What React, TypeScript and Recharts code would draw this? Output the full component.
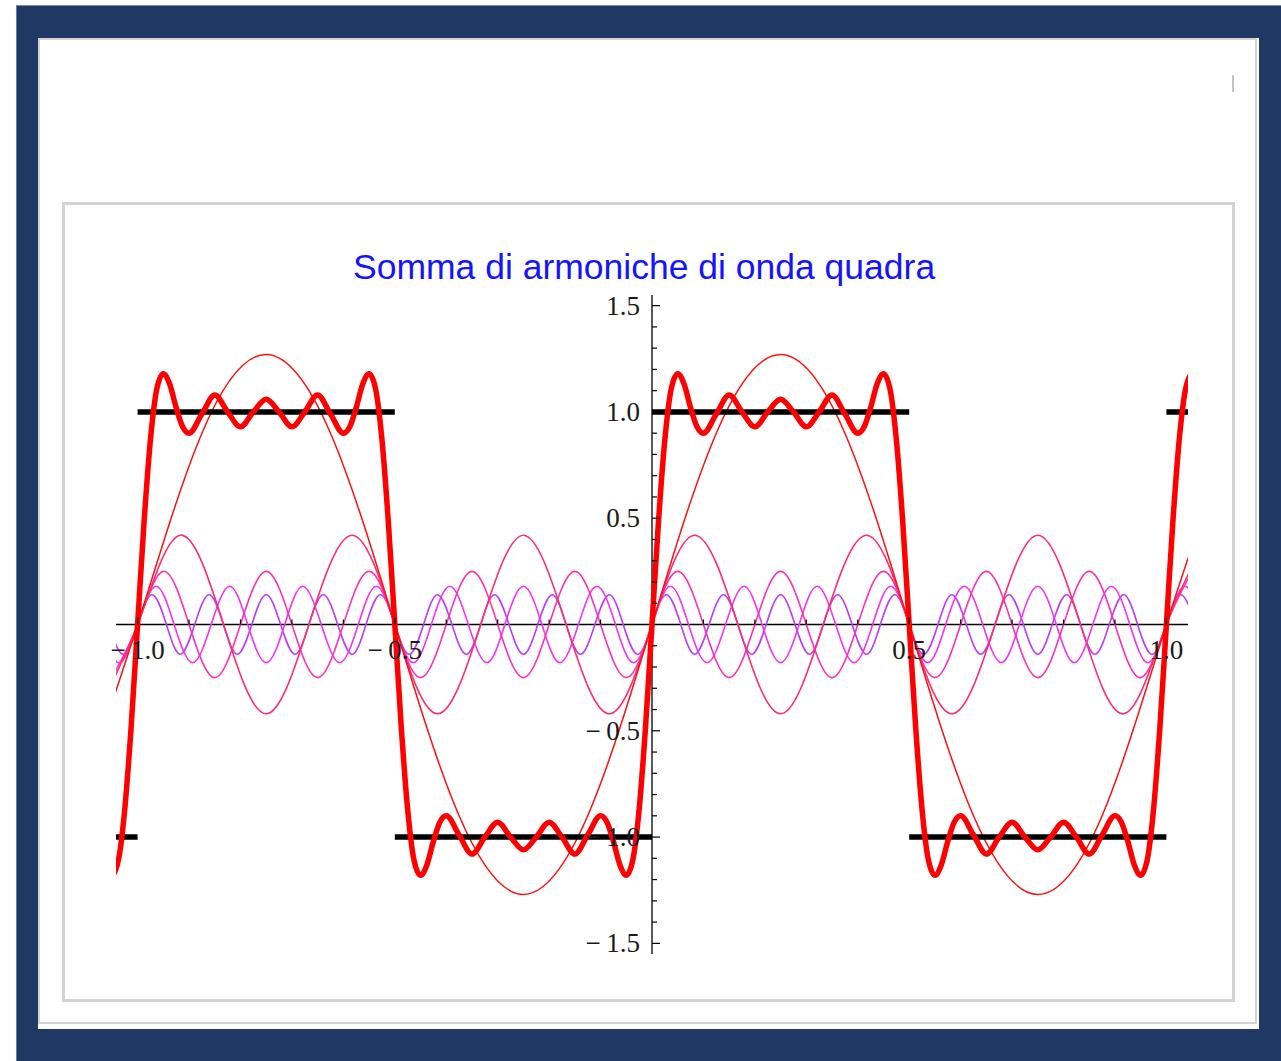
import { Line, LineChart, ReferenceDot, ReferenceLine, XAxis, YAxis } from 'recharts';

type Pair = [number, number | null];
type Point = { x: number; y: number | null };

// Fundamental, sampled every eighth of its period
const harmonic1: Pair[] = [
  [-1.125, -0.9], [-1, 0], [-0.875, 0.9], [-0.75, 1.27], [-0.625, 0.9], [-0.5, 0],
  [-0.375, -0.9], [-0.25, -1.27], [-0.125, -0.9], [0, 0], [0.125, 0.9], [0.25, 1.27],
  [0.375, 0.9], [0.5, 0], [0.625, -0.9], [0.75, -1.27], [0.875, -0.9], [1, 0], [1.125, 0.9],
];

// Odd harmonics, sampled at zeros and crests
const harmonic3: Pair[] = [
  [-1.083, -0.42], [-1, 0], [-0.917, 0.42], [-0.833, 0], [-0.75, -0.42], [-0.667, 0],
  [-0.583, 0.42], [-0.5, 0], [-0.417, -0.42], [-0.333, 0], [-0.25, 0.42], [-0.167, 0],
  [-0.083, -0.42], [0, 0], [0.083, 0.42], [0.167, 0], [0.25, -0.42], [0.333, 0],
  [0.417, 0.42], [0.5, 0], [0.583, -0.42], [0.667, 0], [0.75, 0.42], [0.833, 0],
  [0.917, -0.42], [1, 0], [1.083, 0.42],
];

const harmonic5: Pair[] = [
  [-1.05, -0.25], [-1, 0], [-0.95, 0.25], [-0.9, 0], [-0.85, -0.25], [-0.8, 0],
  [-0.75, 0.25], [-0.7, 0], [-0.65, -0.25], [-0.6, 0], [-0.55, 0.25], [-0.5, 0],
  [-0.45, -0.25], [-0.4, 0], [-0.35, 0.25], [-0.3, 0], [-0.25, -0.25], [-0.2, 0],
  [-0.15, 0.25], [-0.1, 0], [-0.05, -0.25], [0, 0], [0.05, 0.25], [0.1, 0],
  [0.15, -0.25], [0.2, 0], [0.25, 0.25], [0.3, 0], [0.35, -0.25], [0.4, 0],
  [0.45, 0.25], [0.5, 0], [0.55, -0.25], [0.6, 0], [0.65, 0.25], [0.7, 0],
  [0.75, -0.25], [0.8, 0], [0.85, 0.25], [0.9, 0], [0.95, -0.25], [1, 0], [1.05, 0.25],
];

const harmonic7: Pair[] = [
  [-1.071, 0], [-1.036, -0.18], [-1, 0], [-0.964, 0.18], [-0.929, 0], [-0.893, -0.18],
  [-0.857, 0], [-0.821, 0.18], [-0.786, 0], [-0.75, -0.18], [-0.714, 0], [-0.679, 0.18],
  [-0.643, 0], [-0.607, -0.18], [-0.571, 0], [-0.536, 0.18], [-0.5, 0], [-0.464, -0.18],
  [-0.429, 0], [-0.393, 0.18], [-0.357, 0], [-0.321, -0.18], [-0.286, 0], [-0.25, 0.18],
  [-0.214, 0], [-0.179, -0.18], [-0.143, 0], [-0.107, 0.18], [-0.071, 0], [-0.036, -0.18],
  [0, 0], [0.036, 0.18], [0.071, 0], [0.107, -0.18], [0.143, 0], [0.179, 0.18],
  [0.214, 0], [0.25, -0.18], [0.286, 0], [0.321, 0.18], [0.357, 0], [0.393, -0.18],
  [0.429, 0], [0.464, 0.18], [0.5, 0], [0.536, -0.18], [0.571, 0], [0.607, 0.18],
  [0.643, 0], [0.679, -0.18], [0.714, 0], [0.75, 0.18], [0.786, 0], [0.821, -0.18],
  [0.857, 0], [0.893, 0.18], [0.929, 0], [0.964, -0.18], [1, 0], [1.036, 0.18], [1.071, 0],
];

const harmonic9: Pair[] = [
  [-1.056, 0], [-1.028, -0.14], [-1, 0], [-0.972, 0.14], [-0.944, 0], [-0.917, -0.14],
  [-0.889, 0], [-0.861, 0.14], [-0.833, 0], [-0.806, -0.14], [-0.778, 0], [-0.75, 0.14],
  [-0.722, 0], [-0.694, -0.14], [-0.667, 0], [-0.639, 0.14], [-0.611, 0], [-0.583, -0.14],
  [-0.556, 0], [-0.528, 0.14], [-0.5, 0], [-0.472, -0.14], [-0.444, 0], [-0.417, 0.14],
  [-0.389, 0], [-0.361, -0.14], [-0.333, 0], [-0.306, 0.14], [-0.278, 0], [-0.25, -0.14],
  [-0.222, 0], [-0.194, 0.14], [-0.167, 0], [-0.139, -0.14], [-0.111, 0], [-0.083, 0.14],
  [-0.056, 0], [-0.028, -0.14], [0, 0], [0.028, 0.14], [0.056, 0], [0.083, -0.14],
  [0.111, 0], [0.139, 0.14], [0.167, 0], [0.194, -0.14], [0.222, 0], [0.25, 0.14],
  [0.278, 0], [0.306, -0.14], [0.333, 0], [0.361, 0.14], [0.389, 0], [0.417, -0.14],
  [0.444, 0], [0.472, 0.14], [0.5, 0], [0.528, -0.14], [0.556, 0], [0.583, 0.14],
  [0.611, 0], [0.639, -0.14], [0.667, 0], [0.694, 0.14], [0.722, 0], [0.75, -0.14],
  [0.778, 0], [0.806, 0.14], [0.833, 0], [0.861, -0.14], [0.889, 0], [0.917, 0.14],
  [0.944, 0], [0.972, -0.14], [1, 0], [1.028, 0.14], [1.056, 0],
];

// Partial sum of the five harmonics above
const partialSum: Pair[] = [
  [-1.0625, -1.13], [-1.05, -1.18], [-1.0375, -1.11], [-1.025, -0.87], [-1.0125, -0.48],
  [-1, 0], [-0.9875, 0.48], [-0.975, 0.87], [-0.9625, 1.11], [-0.95, 1.18], [-0.9375, 1.13],
  [-0.925, 1.02], [-0.9125, 0.93], [-0.9, 0.9], [-0.875, 0.99], [-0.85, 1.08], [-0.825, 1.0],
  [-0.8, 0.93], [-0.775, 1.0], [-0.75, 1.06], [-0.725, 1.0], [-0.7, 0.93], [-0.675, 1.0],
  [-0.65, 1.08], [-0.625, 0.99], [-0.6, 0.9], [-0.5875, 0.93], [-0.575, 1.02], [-0.5625, 1.13],
  [-0.55, 1.18], [-0.5375, 1.11], [-0.525, 0.87], [-0.5125, 0.48],
  [-0.5, 0], [-0.4875, -0.48], [-0.475, -0.87], [-0.4625, -1.11], [-0.45, -1.18], [-0.4375, -1.13],
  [-0.425, -1.02], [-0.4125, -0.93], [-0.4, -0.9], [-0.375, -0.99], [-0.35, -1.08], [-0.325, -1.0],
  [-0.3, -0.93], [-0.275, -1.0], [-0.25, -1.06], [-0.225, -1.0], [-0.2, -0.93], [-0.175, -1.0],
  [-0.15, -1.08], [-0.125, -0.99], [-0.1, -0.9], [-0.0875, -0.93], [-0.075, -1.02], [-0.0625, -1.13],
  [-0.05, -1.18], [-0.0375, -1.11], [-0.025, -0.87], [-0.0125, -0.48],
  [0, 0], [0.0125, 0.48], [0.025, 0.87], [0.0375, 1.11], [0.05, 1.18], [0.0625, 1.13],
  [0.075, 1.02], [0.0875, 0.93], [0.1, 0.9], [0.125, 0.99], [0.15, 1.08], [0.175, 1.0],
  [0.2, 0.93], [0.225, 1.0], [0.25, 1.06], [0.275, 1.0], [0.3, 0.93], [0.325, 1.0],
  [0.35, 1.08], [0.375, 0.99], [0.4, 0.9], [0.4125, 0.93], [0.425, 1.02], [0.4375, 1.13],
  [0.45, 1.18], [0.4625, 1.11], [0.475, 0.87], [0.4875, 0.48],
  [0.5, 0], [0.5125, -0.48], [0.525, -0.87], [0.5375, -1.11], [0.55, -1.18], [0.5625, -1.13],
  [0.575, -1.02], [0.5875, -0.93], [0.6, -0.9], [0.625, -0.99], [0.65, -1.08], [0.675, -1.0],
  [0.7, -0.93], [0.725, -1.0], [0.75, -1.06], [0.775, -1.0], [0.8, -0.93], [0.825, -1.0],
  [0.85, -1.08], [0.875, -0.99], [0.9, -0.9], [0.9125, -0.93], [0.925, -1.02], [0.9375, -1.13],
  [0.95, -1.18], [0.9625, -1.11], [0.975, -0.87], [0.9875, -0.48],
  [1, 0], [1.0125, 0.48], [1.025, 0.87], [1.0375, 1.11], [1.05, 1.18], [1.0625, 1.13],
];

// Square wave; null breaks the line at each jump
const squareWave: Pair[] = [
  [-1.1, -1], [-1, -1], [-1, null], [-1, 1], [-0.5, 1], [-0.5, null], [-0.5, -1], [0, -1],
  [0, null], [0, 1], [0.5, 1], [0.5, null], [0.5, -1], [1, -1], [1, null], [1, 1], [1.1, 1],
];

const xMajorTicks = [-1, -0.5, 0.5, 1];
const xMajorLabels = ['\u2212\u20091.0', '\u2212\u20090.5', '0.5', '1.0'];
const xMinorTicks = [-0.9, -0.8, -0.7, -0.6, -0.4, -0.3, -0.2, -0.1, 0.1, 0.2, 0.3, 0.4, 0.6, 0.7, 0.8, 0.9];

const yMajorTicks = [1.5, 1, 0.5, -0.5, -1, -1.5];
const yMajorLabels = ['1.5', '1.0', '0.5', '\u2212\u20090.5', '\u2212\u20091.0', '\u2212\u20091.5'];
const yMinorTicks = [
  1.4, 1.3, 1.2, 1.1, 0.9, 0.8, 0.7, 0.6, 0.4, 0.3, 0.2, 0.1,
  -0.1, -0.2, -0.3, -0.4, -0.6, -0.7, -0.8, -0.9, -1.1, -1.2, -1.3, -1.4,
];

const toPoints = (pairs: Pair[]): Point[] => pairs.map(([x, y]) => ({ x, y }));

const labelStyle = {
  fontFamily: '"Liberation Serif", "Times New Roman", serif',
  fontSize: 27,
  fill: '#1a1a1a',
};

type DotShapeProps = { cx?: number; cy?: number };

function xTick(length: number, label?: string) {
  return ({ cx = 0, cy = 0 }: DotShapeProps) => (
    <g>
      <line x1={cx} y1={cy} x2={cx} y2={cy - length} stroke="#000" strokeWidth={1.2} />
      {label && (
        <text x={cx} y={cy + 34} textAnchor="middle" style={labelStyle}>
          {label}
        </text>
      )}
    </g>
  );
}

function yTick(length: number, label?: string) {
  return ({ cx = 0, cy = 0 }: DotShapeProps) => (
    <g>
      <line x1={cx} y1={cy} x2={cx + length} y2={cy} stroke="#000" strokeWidth={1.2} />
      {label && (
        <text x={cx - 12} y={cy + 9} textAnchor="end" style={labelStyle}>
          {label}
        </text>
      )}
    </g>
  );
}

const harmonics = [
  { name: 'h9', pairs: harmonic9, color: '#b93cff' },
  { name: 'h7', pairs: harmonic7, color: '#f533ee' },
  { name: 'h5', pairs: harmonic5, color: '#ff2fb4' },
  { name: 'h3', pairs: harmonic3, color: '#ff2d70' },
];

export default function App() {
  return (
    <div
      style={{
        position: 'absolute',
        left: 0,
        top: 0,
        width: 1281,
        height: 1061,
        background: '#fff',
        overflow: 'hidden',
      }}
    >
      <div
        style={{
          position: 'absolute',
          left: 16,
          top: 5,
          width: 1265,
          height: 1056,
          background: '#1f3864',
          borderLeft: '1px solid #5a7db2',
          borderTop: '1px solid #6f8fc2',
          boxSizing: 'border-box',
        }}
      />
      <div style={{ position: 'absolute', left: 38, top: 38, width: 1221, height: 991, background: '#fff' }} />
      <div
        style={{
          position: 'absolute',
          left: 38,
          top: 38,
          width: 1219,
          height: 986,
          border: '2px solid #d2d2d2',
          boxSizing: 'border-box',
        }}
      />
      <div style={{ position: 'absolute', left: 1232, top: 75, width: 2, height: 17, background: '#c4c4c4' }} />

      <div
        style={{
          position: 'absolute',
          left: 62,
          top: 202,
          width: 1173,
          height: 800,
          border: '3px solid #d3d3d3',
          boxSizing: 'border-box',
          background: '#fff',
        }}
      >
        <div
          style={{
            position: 'absolute',
            left: 288,
            top: 45,
            whiteSpace: 'nowrap',
            fontFamily: '"Liberation Sans", Arial, sans-serif',
            fontSize: 35.5,
            lineHeight: 1,
            color: '#1414ff',
          }}
        >
          Somma di armoniche di onda quadra
        </div>

        <div style={{ position: 'absolute', left: 0, top: 0 }}>
          <LineChart width={1167} height={794} margin={{ top: 90, right: 44, bottom: 45, left: 51 }}>
            <XAxis type="number" dataKey="x" domain={[-1.042, 1.042]} allowDataOverflow hide />
            <YAxis type="number" dataKey="y" domain={[-1.55, 1.55]} allowDataOverflow hide />

            <ReferenceLine x={0} stroke="#000" strokeWidth={1.3} />
            <ReferenceLine y={0} stroke="#000" strokeWidth={1.3} />

            {harmonics.map((h) => (
              <Line
                key={h.name}
                data={toPoints(h.pairs)}
                dataKey="y"
                type="natural"
                stroke={h.color}
                strokeWidth={1.6}
                dot={false}
                activeDot={false}
                isAnimationActive={false}
              />
            ))}
            <Line
              data={toPoints(harmonic1)}
              dataKey="y"
              type="natural"
              stroke="#ff1010"
              strokeWidth={1.5}
              dot={false}
              activeDot={false}
              isAnimationActive={false}
            />
            <Line
              data={toPoints(squareWave)}
              dataKey="y"
              type="linear"
              stroke="#000"
              strokeWidth={5.5}
              dot={false}
              activeDot={false}
              isAnimationActive={false}
            />
            <Line
              data={toPoints(partialSum)}
              dataKey="y"
              type="monotone"
              stroke="#ff0000"
              strokeWidth={5.5}
              dot={false}
              activeDot={false}
              isAnimationActive={false}
            />

            {xMinorTicks.map((v) => (
              <ReferenceDot key={`xm${v}`} x={v} y={0} r={1} shape={xTick(5)} />
            ))}
            {xMajorTicks.map((v, i) => (
              <ReferenceDot key={`xM${v}`} x={v} y={0} r={1} shape={xTick(7, xMajorLabels[i])} />
            ))}
            {yMinorTicks.map((v) => (
              <ReferenceDot key={`ym${v}`} x={0} y={v} r={1} shape={yTick(5)} />
            ))}
            {yMajorTicks.map((v, i) => (
              <ReferenceDot key={`yM${v}`} x={0} y={v} r={1} shape={yTick(8, yMajorLabels[i])} />
            ))}
          </LineChart>
        </div>
      </div>
    </div>
  );
}
